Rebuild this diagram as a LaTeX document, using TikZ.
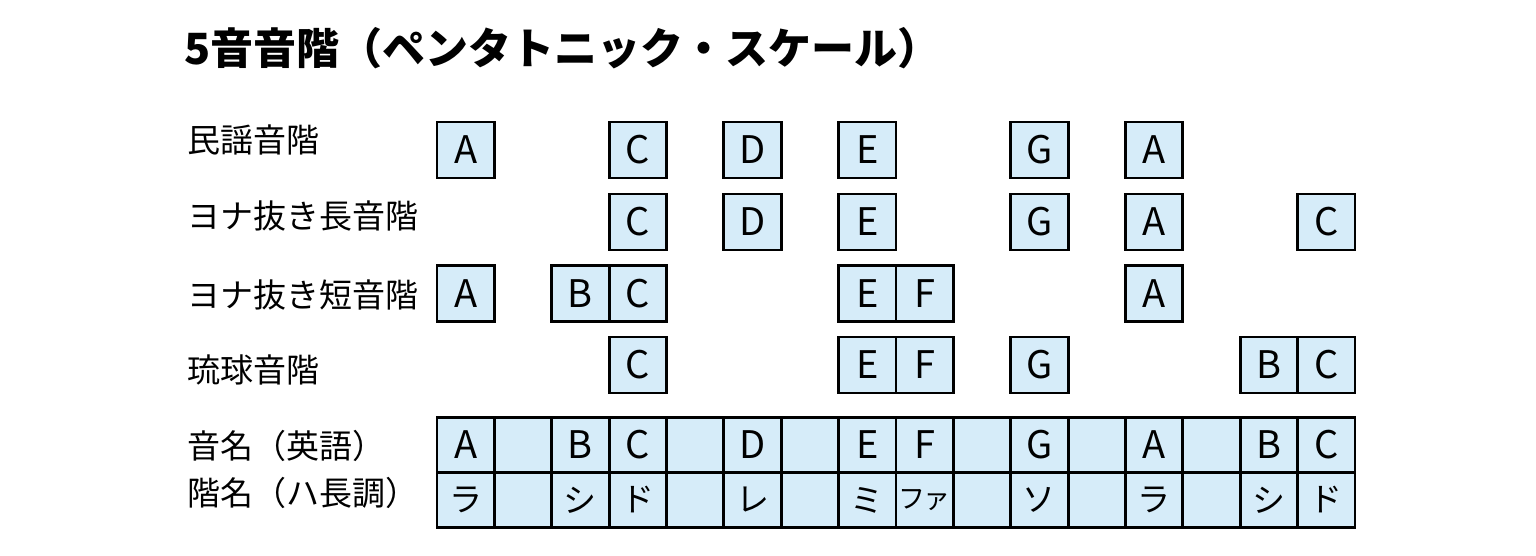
\documentclass[tikz,border=0pt]{standalone}
\usepackage{fontspec}
\setmainfont{Noto Sans CJK JP}
\definecolor{cellblue}{RGB}{214,236,249}
\begin{document}
\begin{tikzpicture}[x=1pt,y=-1pt,
  cell/.style={draw=black, line width=2.8pt, fill=cellblue, minimum width=57.375pt, minimum height=56pt, inner sep=0pt, font=\fontsize{38}{38}\selectfont},
  tcell/.style={cell, minimum height=55pt},
  kana/.style={font=\fontsize{33}{33}\selectfont},
  lab/.style={anchor=west, inner sep=0pt, font=\fontsize{33}{34}\selectfont},
  ttl/.style={anchor=west, inner sep=0pt, font=\bfseries\fontsize{43}{44}\selectfont}]
\useasboundingbox (0,0) rectangle (1536,556);
\node[ttl] (title) at (184,48) {5音音階（ペンタトニック・スケール）};
\node[lab] (l1) at (187,140) {民謡音階};
\node[lab] (l2) at (187,216) {ヨナ抜き長音階};
\node[lab] (l3) at (187,295) {ヨナ抜き短音階};
\node[lab] (l4) at (187,370) {琉球音階};
\node[lab] (l5) at (187,446) {音名（英語）};
\node[lab] (l6) at (187,493) {階名（ハ長調）};
\foreach \c/\t [count=\k] in {0/A,3/C,5/D,7/E,10/G,12/A}
  \node[cell] (ra\k) at ({437+57.375*(\c+0.5)},150) {\t};
\foreach \c/\t [count=\k] in {3/C,5/D,7/E,10/G,12/A,15/C}
  \node[cell] (rb\k) at ({437+57.375*(\c+0.5)},222) {\t};
\foreach \c/\t [count=\k] in {0/A,2/B,3/C,7/E,8/F,12/A}
  \node[cell] (rc\k) at ({437+57.375*(\c+0.5)},293.5) {\t};
\foreach \c/\t [count=\k] in {3/C,7/E,8/F,10/G,14/B,15/C}
  \node[cell] (rd\k) at ({437+57.375*(\c+0.5)},365) {\t};
\foreach \t [count=\k from 0] in {A,{},B,C,{},D,{},E,F,{},G,{},A,{},B,C}
  \node[tcell] (te\k) at ({437+57.375*(\k+0.5)},445) {\t};
\foreach \t [count=\k from 0] in {ラ,{},シ,ド,{},レ,{},ミ,{},{},ソ,{},ラ,{},シ,ド}
  \node[tcell, kana] (tk\k) at ({437+57.375*(\k+0.5)},500) {\t};
\node[font=\fontsize{27}{27}\selectfont, inner sep=0pt] (fa) at (tk8) {フ\kern-2pt ァ};
\end{tikzpicture}
\end{document}
